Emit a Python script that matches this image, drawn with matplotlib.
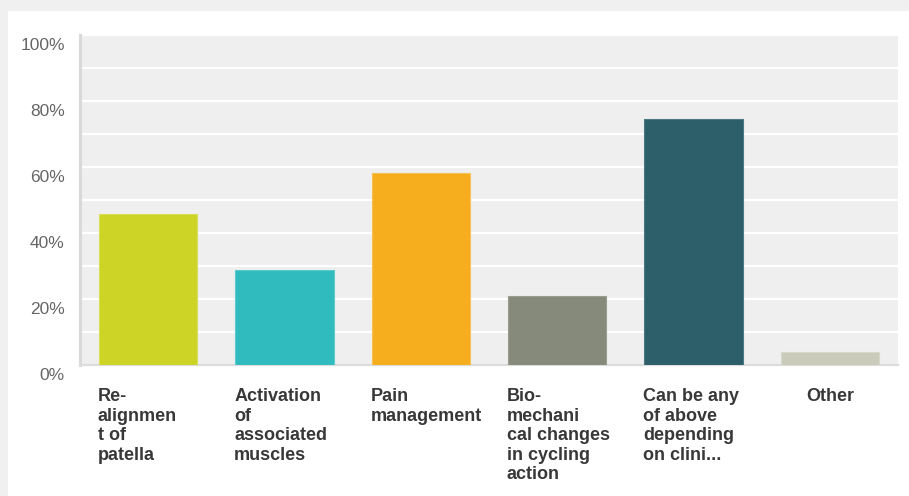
import matplotlib
matplotlib.use("Agg")
import matplotlib.pyplot as plt
import matplotlib.transforms as mtransforms
from matplotlib.patches import Rectangle

# survey answers, share of respondents (%)
categories = ["Re-\nalignmen\nt of\npatella",
              "Activation\nof\nassociated\nmuscles",
              "Pain\nmanagement",
              "Bio-\nmechani\ncal changes\nin cycling\naction",
              "Can be any\nof above\ndepending\non clini...",
              "Other"]
values = [45.7, 28.7, 58.1, 20.8, 74.5, 3.9]
colors = ["#cdd426", "#30bcbe", "#f6ae1e", "#868a7a", "#2d5f6b", "#cbcbbb"]
edge_colors = ["#d9de5a", "#5ccbcd", "#f8c055", "#9a9d8f", "#4c7882", "#d8d8cb"]
yticks = [0, 20, 40, 60, 80, 100]
ytick_labels = ["0%", "20%", "40%", "60%", "80%", "100%"]

plt.rcParams["font.family"] = ["Liberation Sans", "DejaVu Sans"]

fig = plt.figure(figsize=(9.09, 4.96), dpi=100, facecolor="#f0f0f0")
# white card behind the chart
fig.add_artist(Rectangle((8 / 909, 0), 1, (496 - 11) / 496,
                         transform=fig.transFigure, facecolor="white",
                         edgecolor="none", zorder=-5))

ax = fig.add_axes([80 / 909, (496 - 365) / 496, 818 / 909, 330 / 496])
ax.set_zorder(2)
ax.set_facecolor("#efefef")

x = list(range(len(values)))
ax.bar(x, values, width=0.72, color=colors, edgecolor=edge_colors,
       linewidth=0.8, zorder=3)

ax.set_xlim(-0.5, len(values) - 0.5)
ax.set_ylim(0, 100)
ax.set_axisbelow(True)

ax.set_yticks(yticks)
ax.set_yticklabels(ytick_labels, fontsize=12.5, color="#666666")
ax.set_yticks(range(0, 101, 10), minor=True)
ax.yaxis.grid(True, which="both", color="white", linewidth=1.6)
ax.tick_params(axis="y", which="both", length=0, pad=11)
shift = mtransforms.ScaledTranslation(0, -8.5 / 100, fig.dpi_scale_trans)
for lab in ax.get_yticklabels():
    lab.set_transform(lab.get_transform() + shift)

ax.set_xticks([])
for side in ["top", "right"]:
    ax.spines[side].set_visible(False)
ax.spines["left"].set_color("#d9d9d9")
ax.spines["left"].set_linewidth(2.2)
ax.spines["bottom"].set_color("#dcdcdc")
ax.spines["bottom"].set_linewidth(1.6)

# category labels under the bars
for i, lab in enumerate(categories):
    if "\n" in lab:
        xpos, ha = i - 0.37, "left"
    else:
        xpos, ha = i, "center"
    ax.annotate(lab, xy=(xpos, 0), xycoords=("data", "axes fraction"),
                xytext=(0, -23), textcoords="offset pixels",
                ha=ha, va="top", fontsize=13, fontweight="bold",
                color="#383838", linespacing=1.2)

fig.savefig("out.png", dpi=100, facecolor=fig.get_facecolor())
